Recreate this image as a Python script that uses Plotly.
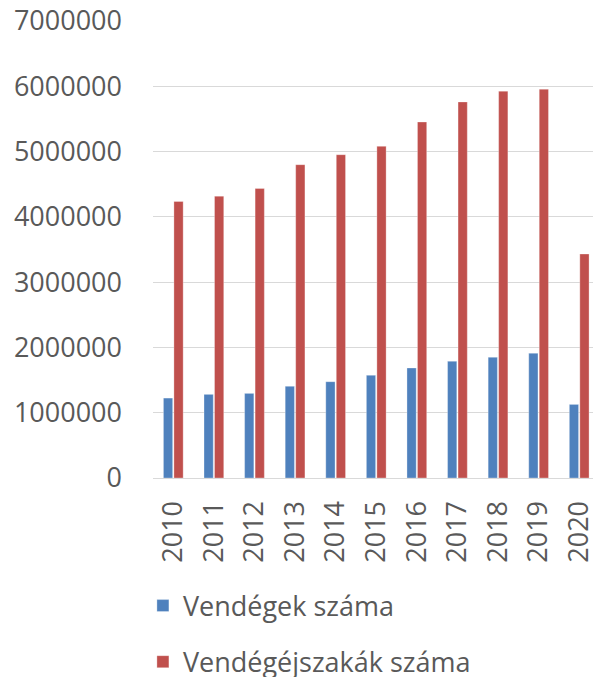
import plotly.graph_objects as go

years = ["2010", "2011", "2012", "2013", "2014", "2015", "2016", "2017", "2018", "2019", "2020"]
vendegek = [1224000, 1281000, 1296000, 1404000, 1475000, 1573000, 1685000, 1788000, 1849000, 1911000, 1127000]
vendegejszakak = [4235000, 4317000, 4435000, 4799000, 4952000, 5080000, 5453000, 5760000, 5925000, 5955000, 3431000]
series_names = ["Vendégek száma", "Vendégéjszakák száma"]
colors = ["#4F81BD", "#C0504D"]
y_ticks = [0, 1000000, 2000000, 3000000, 4000000, 5000000, 6000000, 7000000]

FONT = "Open Sans"
TXT = "#595959"

fig = go.Figure()
for name, vals, col in zip(series_names, [vendegek, vendegejszakak], colors):
    fig.add_trace(go.Bar(
        x=years, y=vals, name=name, legendgroup=name,
        marker=dict(color=col, line=dict(color="rgba(255,255,255,0.5)", width=0.6)),
    ))

fig.update_layout(
    width=593, height=677,
    margin=dict(l=153, r=0, t=21, b=199, autoexpand=False),
    paper_bgcolor="white", plot_bgcolor="white",
    barmode="group", bargap=0.483, bargroupgap=0.12,
    font=dict(family=FONT, size=27, color=TXT),
    legend=dict(
        orientation="v", xref="container", yref="container",
        x=0.241, xanchor="left", y=0.141, yanchor="top",
        font=dict(family=FONT, size=27, color=TXT),
        traceorder="grouped", tracegroupgap=18,
        bgcolor="rgba(0,0,0,0)",
    ),
    xaxis=dict(
        type="category", range=[-0.5, 10.34],
        tickangle=-90, ticks="", ticklabelstandoff=11,
        ticklabeloverflow="allow",
        showline=True, linecolor="#D9D9D9", linewidth=1.3,
        showgrid=False, tickfont=dict(family=FONT, size=27, color=TXT),
    ),
    yaxis=dict(
        range=[0, 7000000], tickvals=y_ticks, tickformat="d",
        ticks="", ticklabelstandoff=30, ticklabeloverflow="allow",
        showgrid=True, gridcolor="#D9D9D9", gridwidth=1.3,
        zeroline=False, showline=False,
        tickfont=dict(family=FONT, size=27, color=TXT),
    ),
)

fig.write_html(
    "out.html",
    config={"displayModeBar": False},
    post_script="document.body.style.margin='0';document.body.style.overflow='hidden';",
)
